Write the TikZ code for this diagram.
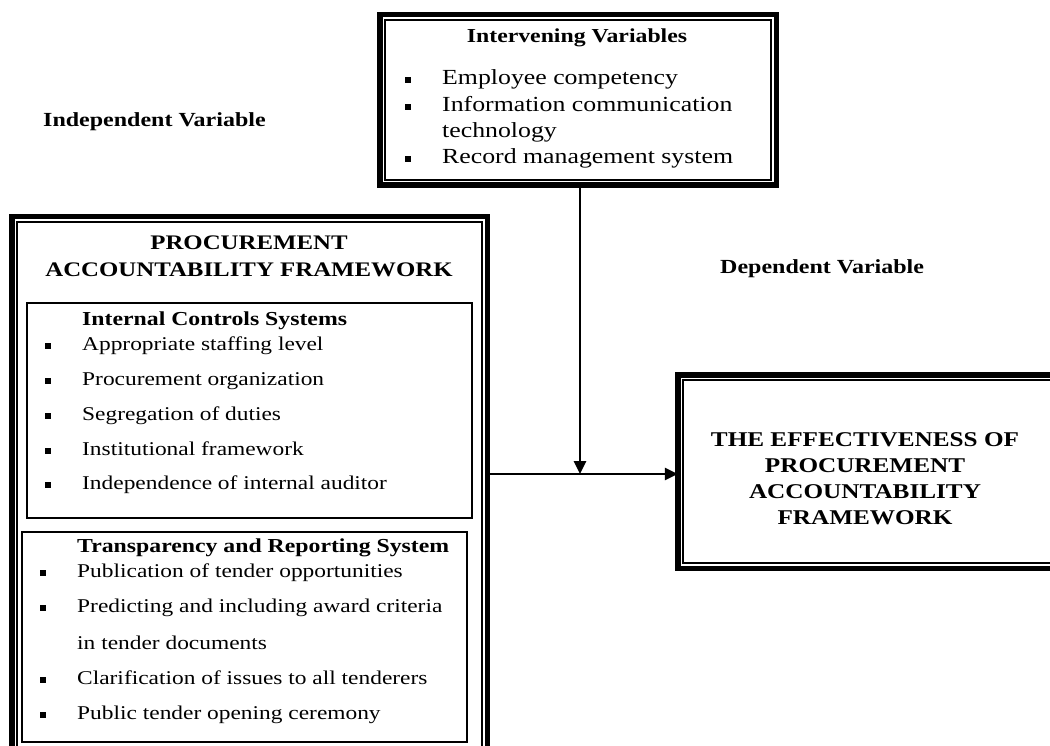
\documentclass[tikz,border=0pt]{standalone}
\usepackage{fontspec}
\setmainfont{Liberation Serif}[FakeStretch=1.2]
\usetikzlibrary{arrows.meta}
\begin{document}
\begin{tikzpicture}[x=1pt,y=-1pt,
  thickframe/.style={draw, line width=5.5pt, rectangle, inner sep=0pt, outer sep=0pt},
  thinframe/.style={draw, line width=1.3pt, rectangle, inner sep=0pt, outer sep=0pt},
  itm/.style={inner sep=0pt, anchor=mid west, font=\fontsize{19.5}{22}\selectfont},
  itmbig/.style={inner sep=0pt, anchor=mid west, font=\fontsize{21.5}{24}\selectfont},
  hd/.style={inner sep=0pt, font=\fontsize{19.8}{22}\selectfont\bfseries},
  bul/.style={fill=black, rectangle, minimum size=5.5pt, inner sep=0pt},
  arr/.style={line width=2.8pt, -{Triangle[length=13pt,width=12pt]}}]
\clip (0,0) rectangle (1050,746);
\fill[white] (0,0) rectangle (1050,746);

% Intervening box
\node[thickframe, minimum width=396.5pt, minimum height=170.5pt] (ivO) at (578,100) {};
\node[thinframe, minimum width=386pt, minimum height=160pt] (ivI) at (578,100) {};
\node[hd, anchor=mid] (ivT) at (577,40) {Intervening Variables};
\node[bul] (ivb1) at (408,80) {};
\node[itmbig] (iv1) at (442,82) {Employee competency};
\node[bul] (ivb2) at (408,107) {};
\node[itmbig] (iv2) at (442,109) {Information communication};
\node[itmbig] (iv2b) at (442,135) {technology};
\node[bul] (ivb3) at (408,159) {};
\node[itmbig] (iv3) at (442,161) {Record management system};

% labels
\node[hd, font=\fontsize{20}{22}\selectfont\bfseries, anchor=mid west] (indep) at (43,124) {Independent Variable};
\node[hd, font=\fontsize{20}{22}\selectfont\bfseries, anchor=mid west] (dep) at (720,271) {Dependent Variable};

% Left big box
\node[thickframe, minimum width=475.5pt, minimum height=561pt] (lbO) at (249.5,497) {};
\node[thinframe, minimum width=465pt, minimum height=550pt] (lbI) at (249.5,497) {};
\node[hd, font=\fontsize{20.7}{27}\selectfont\bfseries, align=center, anchor=center] (lbT) at (249,256.5) {PROCUREMENT\\ACCOUNTABILITY FRAMEWORK};

% Internal controls box
\node[thinframe, minimum width=445pt, minimum height=215pt] (icB) at (249.5,410.5) {};
\node[hd, anchor=mid west] (icT) at (82,323) {Internal Controls Systems};
\foreach \y/\t [count=\i] in {348/Appropriate staffing level, 383/Procurement organization, 418/Segregation of duties, 453/Institutional framework, 487/Independence of internal auditor}{
  \node[bul] (icb\i) at (48,\y-2) {};
  \node[itm] (ic\i) at (82,\y) {\t};
}

% Transparency box
\node[thinframe, minimum width=445pt, minimum height=210pt] (trB) at (244.5,637) {};
\node[hd, anchor=mid west] (trT) at (77,550) {Transparency and Reporting System};
\node[bul] (trb1) at (43,573) {};
\node[itm] (tr1) at (77,575) {Publication of tender opportunities};
\node[bul] (trb2) at (43,608) {};
\node[itm] (tr2) at (77,610) {Predicting and including award criteria};
\node[itm] (tr2b) at (77,647) {in tender documents};
\node[bul] (trb3) at (43,680) {};
\node[itm] (tr3) at (77,682) {Clarification of issues to all tenderers};
\node[bul] (trb4) at (43,715) {};
\node[itm] (tr4) at (77,717) {Public tender opening ceremony};

% Right box
\node[thickframe, minimum width=381.5pt, minimum height=193.5pt] (rbO) at (868.5,471.5) {};
\node[thinframe, minimum width=371pt, minimum height=183pt] (rbI) at (868.5,471.5) {};
\node[hd, font=\fontsize{21}{26}\selectfont\bfseries, align=center, anchor=center] (rbT) at (865,479) {THE EFFECTIVENESS OF\\PROCUREMENT\\ACCOUNTABILITY\\FRAMEWORK};

% connectors
\coordinate (j) at (580,474);
\draw[arr] (ivO.south -| j) -- (j);
\draw[arr] (lbO.east |- j) -- (rbO.west |- j);
\end{tikzpicture}
\end{document}
